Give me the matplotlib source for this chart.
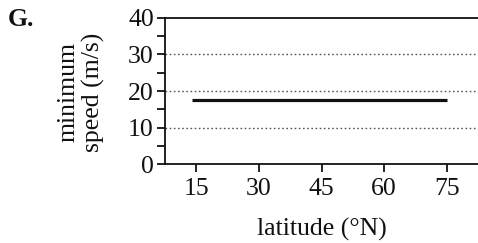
import numpy as np
import matplotlib.pyplot as plt
from matplotlib.ticker import MultipleLocator

plt.rcParams['font.family'] = ['Liberation Serif', 'DejaVu Serif']

# veri
latitude = [14, 75]
min_speed = [17.5, 17.5]
x_ticks = [15, 30, 45, 60, 75]
y_ticks = [0, 10, 20, 30, 40]
grid_levels = [10, 20, 30]

fs = 18.5
fig = plt.figure(figsize=(4.78, 2.43), dpi=100)
ax = fig.add_axes([165/478, 1-164/243, 1-165/478, 146/243])

for g in grid_levels:
    ax.axhline(g, color='#555555', linestyle=(0, (1.2, 1.8)), linewidth=1.0, zorder=1)

ax.plot(latitude, min_speed, color='#111111', linewidth=2.3, solid_capstyle='butt', zorder=3)

ax.set_xlim(7.5, 82.5)
ax.set_ylim(0, 40)
ax.set_xticks(x_ticks)
ax.set_yticks(y_ticks)
ax.yaxis.set_minor_locator(MultipleLocator(5))
ax.spines['right'].set_visible(False)
for s in ['left', 'bottom', 'top']:
    ax.spines[s].set_linewidth(1.3)
    ax.spines[s].set_color('#111111')
ax.tick_params(axis='both', which='major', direction='out', length=6, width=1.3,
               labelsize=fs, colors='#111111', pad=2)
ax.tick_params(axis='y', which='minor', direction='out', length=6, width=1.3, colors='#111111')
ax.tick_params(axis='x', which='major', pad=4)

ax.set_xlabel('latitude (°N)', fontsize=fs, color='#111111', labelpad=13)
fig.text(81/478, 1-92/243, 'minimum\nspeed (m/s)', rotation=90, ha='center', va='center',
         fontsize=fs, color='#111111', linespacing=1.15)
fig.text(8/478, 1-20/243, 'G.', fontsize=fs, fontweight='bold', ha='left', va='center',
         color='#111111')

fig.savefig('out.png', dpi=100)
